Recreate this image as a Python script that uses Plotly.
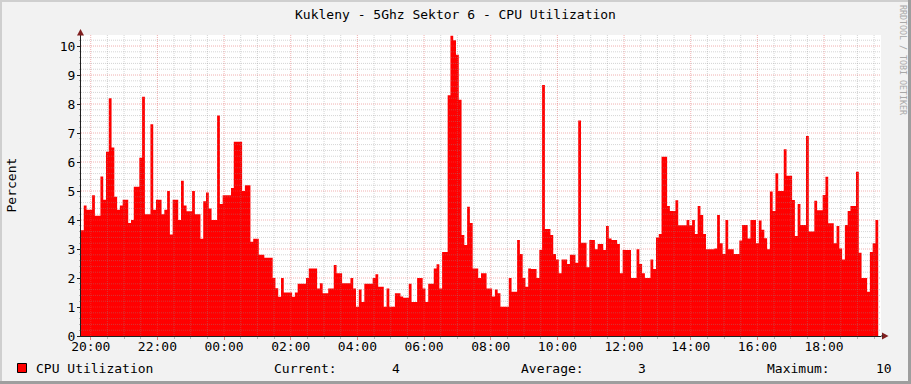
import plotly.graph_objects as go
import pandas as pd

# ---- data: CPU utilization (%) , 5-minute samples starting 19:42:30 ----
cpu_evening = [3.65, 4.5, 4.35, 4.35, 4.85, 4.15, 4.15, 5.5, 4.7, 6.35,
               8.2, 6.5, 4.8, 4.35, 4.5, 4.7, 4.7, 3.9, 4.0, 5.15,
               5.15, 6.15, 8.25, 4.2, 4.2, 7.3, 4.35, 4.7, 4.7, 4.2,
               4.35, 5.0, 3.5, 4.7, 4.7, 4.0, 5.35, 4.5, 4.3, 4.3,
               5.0, 4.2, 4.2, 3.35, 4.65, 4.95, 4.4, 4.0, 4.0, 7.6,
               4.55, 4.85, 4.85, 4.85, 5.1, 6.7, 6.7, 6.7, 5.0, 5.2,
               5.2, 3.25, 3.35, 3.35, 2.8, 2.8, 2.7, 2.7, 2.7, 2.0,
               1.65, 1.35, 2.0, 1.5, 1.5, 1.5, 1.35, 1.5, 1.8, 1.8, 1.8]
cpu_night = [2.0, 2.33, 2.33, 2.33, 1.64, 1.82, 1.47, 1.47, 1.64, 1.64,
             2.45, 2.16, 2.16, 1.82, 1.82, 1.82, 2.0, 1.64, 1.01, 1.6,
             1.17, 1.8, 1.8, 1.8, 2.0, 2.13, 1.7, 1.7, 1.01, 1.64,
             1.01, 1.01, 1.47, 1.47, 1.36, 1.32, 1.32, 1.8, 1.17, 1.17,
             2.0, 2.0, 1.64, 1.17, 1.8, 1.8, 2.33, 2.47, 1.64, 2.9,
             2.9, 8.3, 10.35, 10.2, 9.7, 8.15, 3.48, 3.14, 4.46, 3.9,
             2.33, 2.33, 2.0, 2.16, 2.16, 1.64, 1.64, 1.36, 1.6, 1.47,
             1.01, 1.01, 1.01, 2.0, 1.53, 1.53, 3.31, 2.83, 2.0, 1.7, 2.33]
cpu_day = [2.31, 2.31, 2.0, 2.97, 8.66, 3.69, 3.69, 3.48, 2.83,
           2.64, 2.16, 2.64, 2.64, 2.48, 2.8, 2.8, 2.53, 7.43, 3.22,
           3.22, 2.37, 3.31, 3.31, 2.99, 3.17, 3.17, 2.97, 3.79, 3.36,
           3.31, 3.31, 3.17, 2.16, 2.97, 2.97, 2.97, 2.0, 2.0, 2.99,
           2.48, 2.16, 2.0, 2.0, 2.64, 2.31, 3.4, 3.52, 6.18, 6.18,
           4.48, 4.31, 4.31, 4.68, 3.82, 3.82, 3.82, 4.0, 3.82, 4.0,
           3.52, 4.48, 4.17, 3.52, 2.99, 2.99, 2.99, 3.02, 4.17]
cpu_afternoon = [3.2, 2.83, 4.0, 2.99, 2.99, 2.83, 2.83, 3.29, 3.83, 3.83,
                 3.36, 4.0, 4.0, 3.2, 3.98, 3.66, 3.37, 2.99, 4.98, 4.31,
                 5.61, 5.0, 5.0, 6.44, 5.53, 5.53, 4.69, 3.45, 4.55, 3.83,
                 3.83, 6.9, 3.6, 3.6, 4.66, 4.34, 4.34, 4.86, 5.49, 3.89,
                 3.89, 3.2, 3.79, 3.02, 2.64, 3.83, 4.31, 4.48, 4.48, 5.66,
                 2.87, 2.0, 2.0, 1.53, 2.9, 3.2, 4.0]

start_time = "2024-01-01 19:42:30"
step_minutes = 5
span_hours = 24
title_text = "Kukleny - 5Ghz Sektor 6 - CPU Utilization"
y_label = "Percent"
series_name = "CPU Utilization"

values = cpu_evening + cpu_night + cpu_day + cpu_afternoon
t0 = pd.Timestamp(start_time)
step = pd.Timedelta(minutes=step_minutes)
times = [t0 + i * step for i in range(len(values))]
xs = times + [times[-1] + step]
ys = values + [values[-1]]
x_end = t0 + pd.Timedelta(hours=span_hours)
y_top = 10.38

# ---- geometry helpers (pixel -> paper) ----
W, H = 911, 384
L, R, T, B = 81, 30, 35, 48
PW, PH = W - L - R, H - T - B
def px(p):
    return (p - L) / PW
def py(p):
    return (H - B - p) / PH

FONT = "DejaVu Sans Mono"
fig = go.Figure()
fig.add_trace(go.Scatter(x=xs, y=ys, mode="lines", line=dict(width=0, shape="hv", color="#FF0000"),
                         fill="tozeroy", fillcolor="#FF0000", name=series_name, showlegend=False,
                         hoverinfo="skip"))

shapes = []
minor_col = "rgba(143,143,143,0.38)"
major_col = "rgba(222,79,79,0.45)"
# vertical grid
first_major = pd.Timestamp(t0.date()) + pd.Timedelta(hours=20)
t = first_major - pd.Timedelta(minutes=30)
k = -1
while t < x_end:
    if t > t0:
        is_major = (k % 4 == 0)
        shapes.append(dict(type="line", xref="x", yref="paper", x0=t, x1=t, y0=0, y1=1, layer="above",
                           line=dict(color=major_col if is_major else minor_col, width=1, dash="1px,1px")))
    t += pd.Timedelta(minutes=30)
    k += 1
# horizontal grid
for j in range(1, int(y_top / 0.2) + 1):
    v = j * 0.2
    is_major = (j % 5 == 0)
    shapes.append(dict(type="line", xref="paper", yref="y", x0=0, x1=1, y0=v, y1=v, layer="above",
                       line=dict(color=major_col if is_major else minor_col, width=1, dash="1px,1px")))

# arrows
arrow_col = "#801F1F"
shapes.append(dict(type="path", xref="paper", yref="paper", layer="above",
                   path=f"M {px(80.5)} {py(29)} L {px(77)} {py(35.5)} L {px(84)} {py(35.5)} Z",
                   fillcolor=arrow_col, line=dict(width=0)))
shapes.append(dict(type="path", xref="paper", yref="paper", layer="above",
                   path=f"M {px(888.5)} {py(336)} L {px(882)} {py(332.5)} L {px(882)} {py(339.5)} Z",
                   fillcolor=arrow_col, line=dict(width=0)))
shapes.append(dict(type="line", xref="paper", yref="paper", x0=px(881), x1=px(883), y0=py(336), y1=py(336),
                   line=dict(color="#1F1F1F", width=1)))
# borders
shapes.append(dict(type="rect", xref="paper", yref="paper", x0=px(0), x1=px(W), y0=py(0), y1=py(2),
                   fillcolor="#CFCFCF", line=dict(width=0), layer="below"))
shapes.append(dict(type="rect", xref="paper", yref="paper", x0=px(0), x1=px(2), y0=py(0), y1=py(H),
                   fillcolor="#CFCFCF", line=dict(width=0), layer="below"))
shapes.append(dict(type="rect", xref="paper", yref="paper", x0=px(0), x1=px(W), y0=py(381), y1=py(H),
                   fillcolor="#9E9E9E", line=dict(width=0), layer="below"))
shapes.append(dict(type="rect", xref="paper", yref="paper", x0=px(908), x1=px(W), y0=py(0), y1=py(H),
                   fillcolor="#9E9E9E", line=dict(width=0), layer="below"))
# legend swatch
shapes.append(dict(type="rect", xref="paper", yref="paper", x0=px(17.5), x1=px(26.5), y0=py(363.5), y1=py(372.5),
                   fillcolor="#FF0000", line=dict(color="#000000", width=1)))

cur = values[-1]
avg = sum(values) / len(values)
mx = max(values)

def ann(text, x, y, xanchor="left", size=13, color="#000000", angle=0):
    return dict(text=text, xref="paper", yref="paper", x=px(x), y=py(y), xanchor=xanchor, yanchor="middle",
                showarrow=False, textangle=angle, font=dict(family=FONT, size=size, color=color), borderpad=0)

annotations = [
    ann(y_label, 11, 185.5, xanchor="center", angle=-90),
    ann("RRDTOOL / TOBI OETIKER", 903, 60, xanchor="center", size=8.3, color="#A8A8A8", angle=90),
    ann(series_name, 35, 368),
    ann("Current:", 273, 368),
    ann(f"{cur:.0f}", 400.5, 368, xanchor="right"),
    ann("Average:", 520, 368),
    ann(f"{avg:.0f}", 647, 368, xanchor="right"),
    ann("Maximum:", 766, 368),
    ann(f"{mx:.0f}", 893, 368, xanchor="right"),
]

fig.update_layout(
    width=W, height=H, margin=dict(l=L, r=R, t=T, b=B),
    paper_bgcolor="#F2F2F2", plot_bgcolor="#FFFFFF",
    title=dict(text=title_text, x=0.5, xref="container", xanchor="center", y=1 - 14.5 / H, yref="container",
               yanchor="middle", font=dict(family=FONT, size=13, color="#000000")),
    shapes=shapes, annotations=annotations, showlegend=False,
    xaxis=dict(type="date", range=[t0, x_end], tickformat="%H:%M", tick0=first_major, dtick=2 * 3600 * 1000,
               showgrid=False, zeroline=False, showline=True, linecolor="#1F1F1F", linewidth=1,
               ticks="outside", ticklen=3, tickcolor="rgba(222,79,79,0.7)", ticklabelstandoff=-5,
               tickfont=dict(family=FONT, size=13, color="#000000"),
               minor=dict(dtick=30 * 60 * 1000, tick0=first_major, ticks="outside", ticklen=2,
                          tickcolor="rgba(143,143,143,0.6)", showgrid=False)),
    yaxis=dict(range=[0, y_top], dtick=1, tick0=0, showgrid=False, zeroline=False, showline=True,
               linecolor="#1F1F1F", linewidth=1, ticks="outside", ticklen=3, tickcolor="#1F1F1F",
               ticklabelstandoff=-1,
               tickfont=dict(family=FONT, size=13, color="#000000"),
               minor=dict(dtick=0.2, ticks="outside", ticklen=1, tickcolor="rgba(143,143,143,0.6)", showgrid=False)),
)

fig.write_html("out.html")
